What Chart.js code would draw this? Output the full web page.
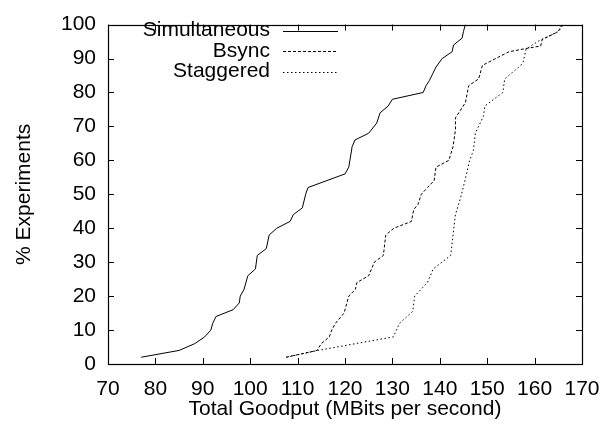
<!DOCTYPE html>
<html>
<head>
<meta charset="utf-8">
<script src="https://cdn.jsdelivr.net/npm/chart.js@4.4.0/dist/chart.umd.min.js"></script>
<style>
  html, body { margin: 0; padding: 0; background: #fff; }
  #wrap { width: 612px; height: 430px; }
</style>
</head>
<body>
<div id="wrap"><canvas id="cdf" width="612" height="430"></canvas></div>
<script>
// tick labels
const xTickValues = [70, 80, 90, 100, 110, 120, 130, 140, 150, 160, 170];
const yTickValues = [0, 10, 20, 30, 40, 50, 60, 70, 80, 90, 100];

// Simultaneous (solid)
const simX = [77, 85, 88.3, 90.4, 91.7, 92.1, 92.8, 96.4, 97.7, 97.9, 98.7, 99.5, 101.1, 101.5, 103.4, 104,
  105.6, 108.4, 109.1, 111, 111.7, 112.2, 120, 120.8, 121.5, 122.1, 125, 126.7, 127.4, 129.1, 130,
  136.5, 137.1, 137.8, 138.5, 139.2, 140.5, 142.6, 142.9, 144.7, 145, 145.4];
const simY = [2, 4, 6, 8, 10, 12, 14, 16, 18, 20, 22, 26, 28, 32, 34, 38,
  40, 42, 44, 46, 50, 52, 56, 58, 64, 66, 68, 71, 74, 76, 78,
  80, 82, 83.5, 85.5, 87.5, 90, 92, 94, 96, 98, 100];

// Bsync (dashed)
const bsyncX = [107.6, 114.1, 115, 116.7, 117.2, 118, 119.8, 120.4, 120.8, 122.2, 122.5, 125, 126.2, 128.1, 128.6,
  130.3, 134, 134.5, 135.4, 136.1, 137.4, 138.8, 139.2, 141.9, 142.8, 143.3, 143.3, 145.4, 146.1, 148.2, 149,
  154.6, 158.4, 161.3, 161.6, 164.4, 165.1, 165.8];
const bsyncY = [2, 4, 6, 8, 10, 12, 15, 18, 20, 22, 24, 26, 30, 32, 38,
  40, 42, 45.5, 47, 50, 52, 54, 58, 60, 64, 69, 72.5, 77, 82, 84, 88,
  92, 93, 93.7, 95.6, 97.5, 98.3, 100];

// Staggered (dotted)
const stagX = [107.6, 114.3, 130.2, 131.5, 134.3, 134.7, 137.4, 138.6, 142.3, 142.8, 143.3, 144.4, 145.4, 146.3,
  147.1, 147.5, 149.2, 149.5, 153.3, 153.7, 157.1, 157.6, 158.2, 161, 165.1, 166];
const stagY = [2, 4, 8, 12, 15.5, 20, 24, 28, 32, 38, 44, 49, 54.6, 60,
  63, 68, 73, 76, 80, 84, 88, 89, 92.8, 95.3, 98, 100];

const FONT = '"Liberation Sans", Arial, sans-serif';
const FSIZE = 21;

function pairs(xs, ys) {
  return xs.map((x, i) => ({ x: x, y: ys[i] }));
}

// gnuplot-style frame with inward ticks on all four sides + key
const framePlugin = {
  id: 'frame',
  afterDraw(chart) {
    const ctx = chart.ctx;
    const a = chart.chartArea;
    const xs = chart.scales.x, ys = chart.scales.y;
    const tl = 6;
    ctx.save();
    ctx.strokeStyle = '#000';
    ctx.lineWidth = 1.2;
    ctx.strokeRect(Math.round(a.left) + 0.5, Math.round(a.top) + 0.5,
      Math.round(a.right - a.left), Math.round(a.bottom - a.top));
    ctx.lineWidth = 1;
    ctx.beginPath();
    xTickValues.forEach(v => {
      const px = Math.round(xs.getPixelForValue(v)) + 0.5;
      ctx.moveTo(px, a.bottom); ctx.lineTo(px, a.bottom - tl);
      ctx.moveTo(px, a.top); ctx.lineTo(px, a.top + tl);
    });
    yTickValues.forEach(v => {
      const py = Math.round(ys.getPixelForValue(v)) + 0.5;
      ctx.moveTo(a.left, py); ctx.lineTo(a.left + tl, py);
      ctx.moveTo(a.right, py); ctx.lineTo(a.right - tl, py);
    });
    ctx.stroke();

    // key
    const textRight = 270, lineL = 283, lineR = 338;
    const rowY = [30.5, 51, 71.5];
    ctx.font = FSIZE + 'px ' + FONT;
    ctx.fillStyle = '#000';
    ctx.textAlign = 'right';
    ctx.textBaseline = 'middle';
    chart.data.datasets.forEach((ds, i) => {
      ctx.fillText(ds.label, textRight, rowY[i]);
      ctx.beginPath();
      ctx.setLineDash(ds.borderDash || []);
      ctx.lineWidth = 1;
      ctx.moveTo(lineL, Math.round(rowY[i]) + 0.5);
      ctx.lineTo(lineR, Math.round(rowY[i]) + 0.5);
      ctx.stroke();
    });
    ctx.restore();
  }
};

new Chart(document.getElementById('cdf'), {
  type: 'line',
  data: {
    datasets: [
      { label: 'Simultaneous', data: pairs(simX, simY), borderColor: '#000', borderWidth: 1, borderDash: [] },
      { label: 'Bsync', data: pairs(bsyncX, bsyncY), borderColor: '#000', borderWidth: 1, borderDash: [3, 2] },
      { label: 'Staggered', data: pairs(stagX, stagY), borderColor: '#000', borderWidth: 1, borderDash: [1.5, 2.5] }
    ]
  },
  options: {
    responsive: false,
    animation: false,
    layout: { padding: { top: 15, right: 22, left: 0, bottom: 0 } },
    elements: { point: { radius: 0 }, line: { tension: 0 } },
    plugins: { legend: { display: false }, tooltip: { enabled: false } },
    scales: {
      x: {
        type: 'linear',
        min: 70, max: 170,
        afterBuildTicks: s => { s.ticks = xTickValues.map(v => ({ value: v })); },
        afterFit: s => { s.height = 66; },
        grid: { display: false, drawTicks: false },
        border: { display: false },
        ticks: { color: '#000', padding: 12.5, maxRotation: 0, font: { family: FONT, size: FSIZE } },
        title: {
          display: true,
          text: 'Total Goodput (MBits per second)',
          color: '#000',
          font: { family: FONT, size: FSIZE },
          padding: { top: 0, bottom: 8 }
        }
      },
      y: {
        min: 0, max: 100,
        afterBuildTicks: s => { s.ticks = yTickValues.map(v => ({ value: v })); },
        afterFit: s => { s.width = 108; },
        grid: { display: false, drawTicks: false },
        border: { display: false },
        ticks: { color: '#000', padding: 12, font: { family: FONT, size: FSIZE } },
        title: {
          display: true,
          text: '% Experiments',
          color: '#000',
          font: { family: FONT, size: FSIZE },
          padding: { top: 12, bottom: 0 }
        }
      }
    }
  },
  plugins: [framePlugin]
});
</script>
</body>
</html>
